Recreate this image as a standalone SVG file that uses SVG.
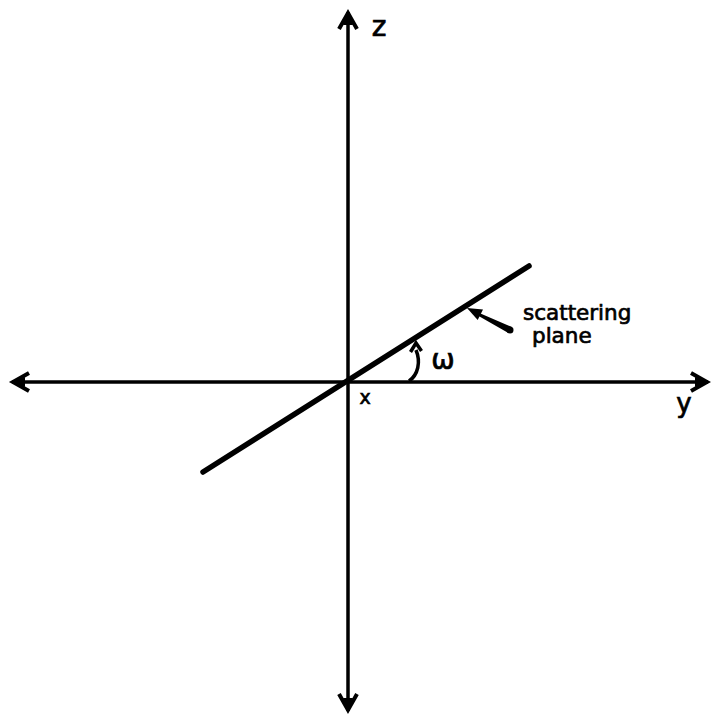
<svg xmlns="http://www.w3.org/2000/svg" width="711" height="715" viewBox="0 0 711 715">
<style>
.axis{stroke:#000;stroke-width:3.5;fill:none}
.plane{stroke:#000;stroke-width:5.5;fill:none;stroke-linecap:round}
.lbl{font-family:"DejaVu Sans","Liberation Sans",sans-serif;fill:#000;stroke:#000;stroke-width:0.7}
</style>
<defs>
<marker id="ah" markerUnits="userSpaceOnUse" viewBox="-20 -12 24 24" refX="0" refY="0" markerWidth="24" markerHeight="24" orient="auto-start-reverse">
<path d="M-17,-9 L-1,0 L-17,9" fill="none" stroke="#000" stroke-width="4" stroke-linejoin="miter"/>
<path d="M-13,-5 L-1,0 L-13,5 Z" fill="#000"/>
</marker>
</defs>
<rect width="711" height="715" fill="#fff"/>
<g id="connectors">
<line id="z-axis" class="axis" x1="348" y1="12" x2="348" y2="711" marker-start="url(#ah)" marker-end="url(#ah)"/>
<line id="y-axis" class="axis" x1="12" y1="382" x2="708" y2="382" marker-start="url(#ah)" marker-end="url(#ah)"/>
<path id="omega-arc" d="M409,381 C418,375 421,362 416,350" fill="none" stroke="#000" stroke-width="3.5"/>
<path d="M410.5,352 L416,343 L421.5,351" fill="none" stroke="#000" stroke-width="3.5"/>
<g id="pointer">
<polygon points="477.3,315.3 478.7,312.7 511.6,326.9 508.4,333.1" fill="#000"/>
<circle cx="510" cy="330" r="3.5" fill="#000"/>
<polygon points="467,308 483,309.5 477.7,320.1" fill="#000"/>
</g>
</g>
<g id="scattering-plane">
<line class="plane" x1="203" y1="472" x2="529" y2="266"/>
<text class="lbl" x="523" y="320" font-size="21.5">scattering</text>
<text class="lbl" x="532" y="343" font-size="21.5">plane</text>
</g>
<g id="labels">
<text class="lbl" x="379" y="36" font-size="28" text-anchor="middle">z</text>
<text class="lbl" x="365" y="404" font-size="19" text-anchor="middle">x</text>
<text class="lbl" x="684" y="412" font-size="26" text-anchor="middle">y</text>
<text class="lbl" x="443" y="369" font-size="28" text-anchor="middle">ω</text>
</g>
</svg>
